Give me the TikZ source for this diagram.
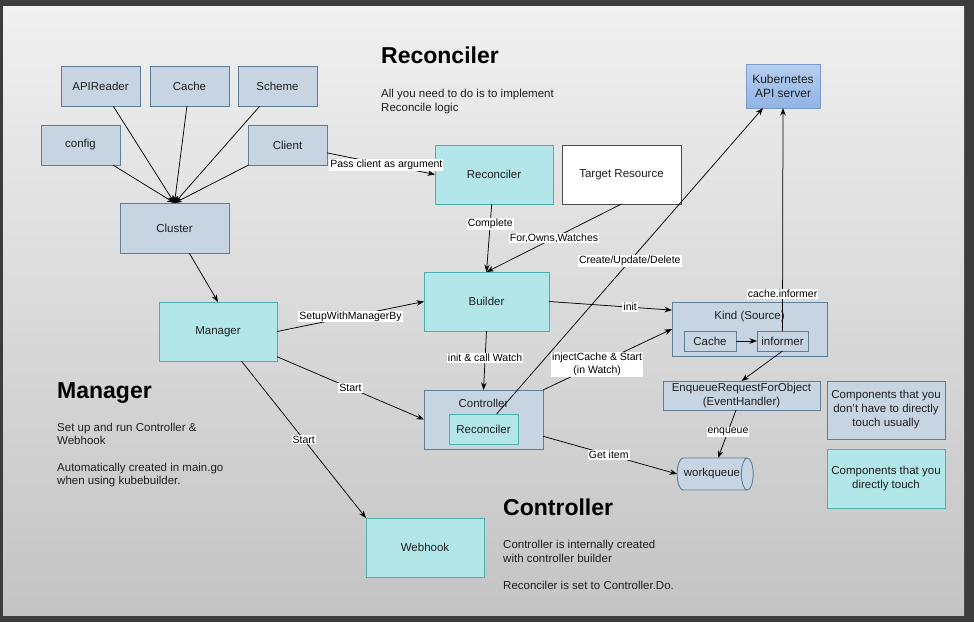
\documentclass[tikz,border=0pt]{standalone}
\usepackage{fontspec}
\setmainfont{Liberation Sans}
\usetikzlibrary{arrows.meta,shapes.geometric,calc}
\definecolor{frame}{HTML}{3C3C3C}
\definecolor{bgtop}{HTML}{F0F0F0}
\definecolor{bgbot}{HTML}{C4C4C4}
\definecolor{gbfill}{HTML}{C6D5E1}
\definecolor{gbdraw}{HTML}{5E7E98}
\definecolor{cyfill}{HTML}{B3E6E8}
\definecolor{cydraw}{HTML}{4DAFAE}
\definecolor{txt}{HTML}{1E1E1E}
\definecolor{kbtop}{HTML}{B6CFF1}
\definecolor{kbbot}{HTML}{90B4E5}
\definecolor{kbdraw}{HTML}{7C9BC8}
\begin{document}
\begin{tikzpicture}[x=1pt,y=-1pt,
  base/.style={rectangle, inner sep=0pt, outer sep=0pt, line width=0.9pt, font=\fontsize{11.5}{14}\selectfont, text=txt, align=center},
  gbox/.style={base, fill=gbfill, draw=gbdraw},
  cbox/.style={base, fill=cyfill, draw=cydraw},
  wbox/.style={base, fill=white, draw=black!70},
  conn/.style={line width=0.75pt, -{Stealth[length=7.5pt,width=5.5pt]}},
  elab/.style={fill=white, inner sep=1pt, font=\fontsize{10.5}{12.5}\selectfont, text=black, align=center},
  ttl/.style={anchor=base west, inner sep=0pt, font=\bfseries\fontsize{23}{27}\selectfont, text=black},
  bodytxt/.style={anchor=base west, inner sep=0pt, font=\fontsize{11.5}{14}\selectfont, text=txt},
  intitle/.style={anchor=base, inner sep=0pt, font=\fontsize{11.5}{14}\selectfont, text=txt},
]
\useasboundingbox (0,0) rectangle (974,622);
\fill[frame] (0,0) rectangle (974,622);
\shade[top color=bgtop, bottom color=bgbot] (3,6) rectangle (964,615);

% titles and texts
\node[ttl] (t1) at (381,63) {Reconciler};
\node[bodytxt] (t1a) at (381,97) {All you need to do is to implement};
\node[bodytxt] (t1b) at (381,111) {Reconcile logic};
\node[ttl] (t2) at (57,398) {Manager};
\node[bodytxt] (t2a) at (57,431) {Set up and run Controller \&};
\node[bodytxt] (t2b) at (57,444) {Webhook};
\node[bodytxt] (t2c) at (57,471) {Automatically created in main.go};
\node[bodytxt] (t2d) at (57,484) {when using kubebuilder.};
\node[ttl] (t3) at (503,515) {Controller};
\node[bodytxt] (t3a) at (503,548) {Controller is internally created};
\node[bodytxt] (t3b) at (503,562) {with controller builder};
\node[bodytxt] (t3c) at (503,589) {Reconciler is set to Controller.Do.};

% boxes
\node[gbox, minimum width=79pt, minimum height=40pt] (apir) at (100.5,86) {APIReader};
\node[gbox, minimum width=79pt, minimum height=40pt] (cachetop) at (189.5,86) {Cache};
\node[gbox, minimum width=79pt, minimum height=40pt] (scheme) at (277.5,86) {Scheme};
\node[gbox, minimum width=79pt, minimum height=40pt] (config) at (80.5,145) {config};
\node[gbox, minimum width=79pt, minimum height=40pt] (client) at (287.5,145) {Client};
\node[gbox, minimum width=109pt, minimum height=50pt] (cl) at (174.5,228) {Cluster};
\node[cbox, minimum width=118pt, minimum height=59pt] (mgr) at (218,331.5) {Manager};
\node[cbox, minimum width=118pt, minimum height=59pt] (rec) at (494,174.5) {Reconciler};
\node[wbox, minimum width=119pt, minimum height=59pt] (tr) at (621.5,174.5) {Target Resource};
\node[cbox, minimum width=125pt, minimum height=59pt] (builder) at (486.5,301.5) {Builder};
\node[gbox, minimum width=119pt, minimum height=59pt] (ctrl) at (483.5,419.5) {};
\node[intitle] (ctrlt) at (483.5,407.5) {Controller};
\node[cbox, minimum width=69pt, minimum height=30pt] (recin) at (483.5,429) {Reconciler};
\node[gbox, minimum width=155pt, minimum height=54pt] (kind) at (749.5,329) {};
\node[intitle] (kindt) at (749.5,319) {Kind (Source)};
\node[gbox, minimum width=52pt, minimum height=20pt] (cachein) at (710,341) {Cache};
\node[gbox, minimum width=51pt, minimum height=20pt] (inf) at (782.5,341) {informer};
\node[gbox, minimum width=157pt, minimum height=29pt] (eh) at (741.5,395.5) {EnqueueRequestForObject\\(EventHandler)};
\node[cylinder, draw=gbdraw, fill=gbfill, line width=0.9pt, aspect=1.1, minimum width=32pt, minimum height=76pt, inner sep=0pt, outer sep=0pt, font=\fontsize{11.5}{14}\selectfont, text=txt] (wq) at (712,474) {workqueue};
\node[base, draw=kbdraw, top color=kbtop, bottom color=kbbot, minimum width=74pt, minimum height=44pt, font=\fontsize{12}{14}\selectfont] (k8s) at (783,86) {Kubernetes\\API server};
\node[cbox, minimum width=118pt, minimum height=59pt] (wh) at (425,547.5) {Webhook};
\node[gbox, minimum width=118pt, minimum height=58pt] (leg1) at (886,410) {Components that you\\don't have to directly\\touch usually};
\node[cbox, minimum width=118pt, minimum height=59pt] (leg2) at (886,478.5) {Components that you\\directly touch};

% connectors
\draw[conn] (apir) -- (cl.north);
\draw[conn] (cachetop) -- (cl.north);
\draw[conn] (scheme) -- (cl.north);
\draw[conn] (config) -- (cl.north);
\draw[conn] (client) -- (cl.north);
\draw[conn] (cl) -- (mgr.north);
\draw[conn] (client) -- node[elab, pos=0.55] {Pass client as argument} (rec.west);
\draw[conn] (rec) -- node[elab, pos=0.29] {Complete} (builder.north);
\draw[conn] (tr.south) -- node[elab, pos=0.5] {For,Owns,Watches} (builder.north);
\draw[conn] (mgr.east) -- node[elab, pos=0.5] {SetupWithManagerBy} (builder.west);
\draw[conn] (mgr) -- node[elab, pos=0.5] {Start} (ctrl.west);
\draw[conn] (mgr) -- node[elab, pos=0.5] {Start} (wh.north west);
\draw[conn] (builder.south) -- node[elab, pos=0.46] {init \& call Watch} (ctrl.north);
\coordinate (kindin) at ($(kind.north west)!0.15!(kind.south west)$);
\draw[conn] (builder.east) -- node[elab, pos=0.66] {init} (kindin);
\draw[conn] (ctrl.north east) -- node[elab, pos=0.42] {injectCache \& Start\\(in Watch)} (kind.west);
\draw[conn] (ctrl) -- node[elab, pos=0.49] {Get item} (wq.west);
\coordinate (k8sin) at ($(k8s.south west)!0.23!(k8s.south east)$);
\draw[conn] (recin) -- node[elab, pos=0.5] {Create/Update/Delete} (k8sin);
\draw[conn] (inf.north) -- node[elab, pos=0.166] {cache.informer} (k8s.south);
\draw[conn] (cachein) -- (inf);
\draw[conn] (inf.south) -- (eh.north);
\draw[conn] (eh) -- node[elab, pos=0.45] {enqueue} (wq);
\end{tikzpicture}
\end{document}
